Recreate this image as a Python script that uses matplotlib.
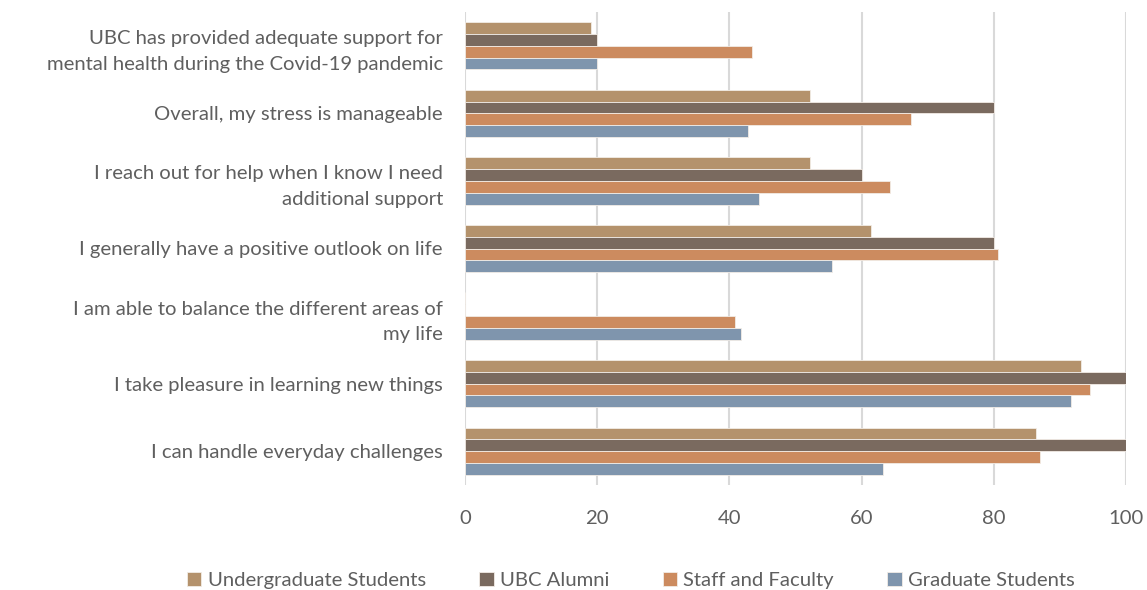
import numpy as np
import matplotlib.pyplot as plt

plt.rcParams['font.family'] = ['Lato', 'DejaVu Sans']

categories = [
    "I can handle everyday challenges",
    "I take pleasure in learning new things",
    "I am able to balance the different areas of\nmy life",
    "I generally have a positive outlook on life",
    "I reach out for help when I know I need\nadditional support",
    "Overall, my stress is manageable",
    "UBC has provided adequate support for\nmental health during the Covid-19 pandemic",
]
series = ["Undergraduate Students", "UBC Alumni", "Staff and Faculty", "Graduate Students"]
undergrad = [86.4, 93.2, 0, 61.4, 52.2, 52.2, 19.1]
alumni = [100, 100, 0, 80, 60, 80, 20]
staff = [87, 94.6, 40.8, 80.6, 64.3, 67.5, 43.4]
grad = [63.2, 91.7, 41.7, 55.5, 44.5, 42.8, 20]
colors = ["#B4926C", "#7A6A5F", "#CC8B5F", "#7F95AD"]

fig = plt.figure(figsize=(11.47, 5.90), dpi=100)
ax = fig.add_axes([465 / 1147, 1 - 485 / 590, 661 / 1147, 473 / 590])

y = np.arange(len(categories))
h = 0.175
data = [undergrad, alumni, staff, grad]
for i, (vals, col, name) in enumerate(zip(data, colors, series)):
    offs = (1.5 - i) * h
    ax.barh(y + offs, vals, height=h, color=col, label=name,
            edgecolor="#f2ece6", linewidth=0.6, zorder=3)

ax.set_xlim(0, 100)
ax.set_ylim(-0.5, len(categories) - 0.5)
ax.set_xticks(range(0, 101, 20))
ax.set_yticks(y)
ax.set_yticklabels(categories, fontsize=14.6, color="#5f5f5f", linespacing=1.6)
ax.tick_params(axis='x', labelsize=14.6, labelcolor="#5f5f5f", length=0, pad=18)
ax.tick_params(axis='y', length=0, pad=16)
ax.xaxis.grid(True, color="#d9d9d9", linewidth=1.5, zorder=0)
for s in ax.spines.values():
    s.set_visible(False)

handles, labels = ax.get_legend_handles_labels()
fig.legend(handles, labels, loc='lower center', ncol=4, bbox_to_anchor=(0.55, -0.03),
           frameon=False, fontsize=14.6, handlelength=0.7, handleheight=0.7,
           handletextpad=0.3, columnspacing=2.65, labelcolor="#5f5f5f")

fig.savefig("out.png", dpi=100)
